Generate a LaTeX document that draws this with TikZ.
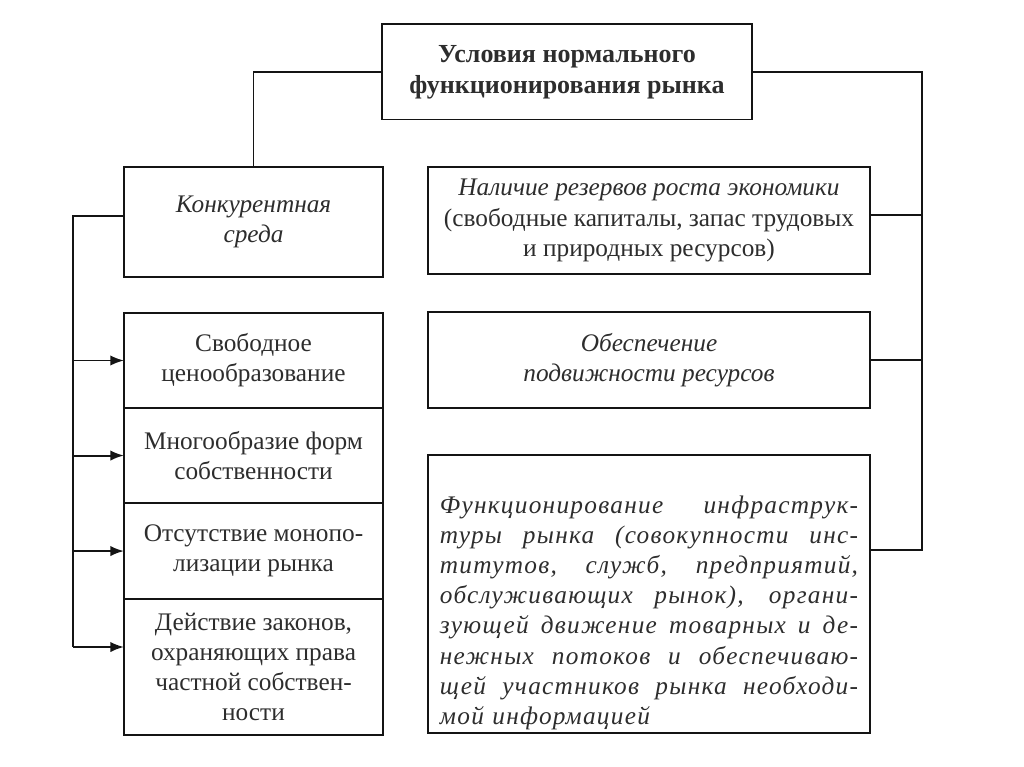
\documentclass[tikz,border=0pt]{standalone}
\usepackage{fontspec}
\setmainfont{Liberation Serif}
\usepackage{tikz}
\usetikzlibrary{positioning, arrows.meta}
\definecolor{boxline}{RGB}{20, 20, 20}
\definecolor{boxtext}{RGB}{45, 45, 45}
\newcommand{\jline}[1]{\makebox[10.45cm][s]{\spaceskip=0.25em plus 1fil\xspaceskip=\spaceskip\relax #1}}

\begin{document}
\begin{tikzpicture}[x=0.025cm, y=-0.025cm,
    box/.style={draw=boxline, line width=1.4pt, align=center, text=boxtext, inner sep=0pt, outer sep=0pt,
                font=\fontsize{18}{21.5}\selectfont},
    link/.style={draw=boxline, line width=1.4pt},
    arr/.style={link, -{Latex[length=3.4mm, width=2.6mm]}},
    node distance=0pt]

    \useasboundingbox (0,0) rectangle (1024,767);

    % Title
    \node[box, font=\bfseries\fontsize{18.5}{22}\selectfont, minimum width=9.225cm, minimum height=2.375cm]
        (title) at (567,72) {Условия нормального\\функционирования рынка};

    % Left column
    \node[box, font=\itshape\fontsize{18}{21.5}\selectfont, minimum width=6.475cm, minimum height=2.75cm]
        (konk) at (253.5,222) {Конкурентная\\среда};
    \node[box, minimum width=6.475cm, minimum height=2.375cm] (price) at (253.5,360.5) {Свободное\\ценообразование};
    \node[box, minimum width=6.475cm, minimum height=2.375cm, below=of price] (forms) {Многообразие форм\\собственности};
    \node[box, minimum width=6.475cm, minimum height=2.4cm, below=of forms] (monop) {Отсутствие монопо-\\лизации рынка};
    \node[box, minimum width=6.475cm, minimum height=3.4cm, below=of monop] (laws)
        {Действие законов,\\охраняющих права\\частной собствен-\\ности};

    % Right column
    \node[box, minimum width=11.05cm, minimum height=2.675cm] (res) at (649,220.5)
        {\textit{Наличие резервов роста экономики}\\(свободные капиталы, запас трудовых\\и природных ресурсов)};
    \node[box, font=\itshape\fontsize{18}{21.5}\selectfont, minimum width=11.05cm, minimum height=2.4cm]
        (mob) at (649,360) {Обеспечение\\подвижности ресурсов};
    \node[box, font=\itshape\fontsize{18}{21.4}\selectfont\addfontfeatures{LetterSpace=5}, minimum width=11.05cm,
          minimum height=6.95cm, text width=10.45cm, align=left] (infra) at (649,594)
        {\rule{0pt}{1.38cm}\jline{Функционирование инфраструк-}\\
         \jline{туры рынка (совокупности инс-}\\
         \jline{титутов, служб, предприятий,}\\
         \jline{обслуживающих рынок), органи-}\\
         \jline{зующей движение товарных и де-}\\
         \jline{нежных потоков и обеспечиваю-}\\
         \jline{щей участников рынка необходи-}\\
         мой информацией};

    % Connections
    \coordinate (rbus) at (922,550);
    \coordinate (lbus) at (73,647);
    \draw[link] (title.west) -| (konk.north);
    \draw[link] (title.east) -| (rbus) -- (infra.east |- rbus);
    \draw[link] ([yshift=0.13cm]res.east) -- ([yshift=0.13cm]res.east -| rbus);
    \draw[link] (mob.east) -- (mob.east -| rbus);
    \draw[link] ([yshift=0.15cm]konk.west) -| (lbus);
    \foreach \n in {price, forms, monop}
        \draw[arr] (\n.west -| lbus) -- (\n.west);
    \draw[arr] (lbus) -- (lbus -| laws.west);
\end{tikzpicture}
\end{document}
